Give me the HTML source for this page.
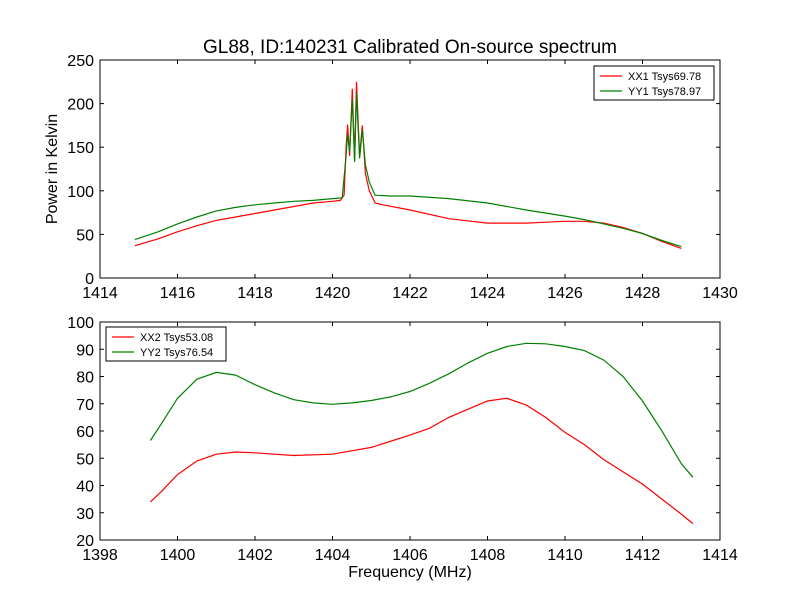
<!DOCTYPE html>
<html><head><meta charset="utf-8"><style>
body{margin:0;background:#fff}
svg text{font-family:"Liberation Sans",sans-serif;fill:#000}
</style></head><body>
<svg id="c" width="800" height="600" viewBox="0 0 800 600" xmlns="http://www.w3.org/2000/svg">
<rect width="800" height="600" fill="#fff"/>
<text x="410" y="53" font-size="19" text-anchor="middle">GL88, ID:140231 Calibrated On-source spectrum</text>
</svg>
<script>
const topXTicks=[1414,1416,1418,1420,1422,1424,1426,1428,1430];
const topYTicks=[0,50,100,150,200,250];
const botXTicks=[1398,1400,1402,1404,1406,1408,1410,1412,1414];
const botYTicks=[20,30,40,50,60,70,80,90,100];
const xx1Freq=[1414.9,1415.5,1416,1416.5,1417,1417.5,1418,1418.5,1419,1419.5,1420,1420.2,1420.3,1420.35,1420.39,1420.44,1420.51,1420.57,1420.62,1420.7,1420.77,1420.85,1420.95,1421.1,1421.3,1422,1423,1424,1425,1425.5,1426,1426.5,1427,1427.5,1428,1428.5,1429];
const xx1Vals=[37,45,53,60,66,70,74,78,82,86,88,89,95,150,176,140,217,135,225,140,175,120,100,86,84,78,68,63,63,64,65,65,63,58,51,42,34];
const yy1Freq=[1414.9,1415.5,1416,1416.5,1417,1417.5,1418,1418.5,1419,1419.5,1420,1420.25,1420.35,1420.39,1420.44,1420.51,1420.57,1420.62,1420.7,1420.77,1420.85,1420.95,1421.1,1421.5,1422,1423,1424,1425,1426,1426.5,1427,1427.5,1428,1428.5,1429];
const yy1Vals=[44,53,62,70,77,81,84,86,88,89,91,92,140,165,145,205,133,212,137,170,130,110,95,94,94,91,86,78,71,67,62,57,51,43,36];
const xx2Freq=[1399.3,1399.6,1400,1400.5,1401,1401.5,1402,1403,1404,1405,1406,1406.5,1407,1407.5,1408,1408.5,1409,1409.5,1410,1410.5,1411,1411.5,1412,1412.5,1413,1413.3];
const xx2Vals=[34,38,44,49,51.5,52.3,52,51,51.5,54,58.5,61,65,68,71,72,69.5,65,59.5,55,49.5,45,40.5,35,29.5,26];
const yy2Freq=[1399.3,1399.6,1400,1400.5,1401,1401.5,1402,1402.5,1403,1403.5,1404,1404.5,1405,1405.5,1406,1406.5,1407,1407.5,1408,1408.5,1409,1409.5,1410,1410.5,1411,1411.5,1412,1412.5,1413,1413.3];
const yy2Vals=[56.5,63,72,79,81.5,80.5,77,74,71.5,70.3,69.8,70.3,71.2,72.5,74.5,77.5,81,85,88.5,91,92.2,92,91,89.5,86,80,71,60,48,43];

const svg=document.getElementById('c');
const NS='http://www.w3.org/2000/svg';
function mk(tag,attrs,parent){const e=document.createElementNS(NS,tag);for(const k in attrs)e.setAttribute(k,attrs[k]);(parent||svg).appendChild(e);return e;}

function panel(name,box,xd,yd,xt,yt,series,legend,ylabel,xlabel){
  const g=mk('g',{});
  
  
  const sx=v=>box.x+(v-xd[0])/(xd[1]-xd[0])*box.w;
  const sy=v=>box.y+box.h-(v-yd[0])/(yd[1]-yd[0])*box.h;
  series.forEach(s=>{
    const pts=s.f.map((f,i)=>sx(f).toFixed(1)+','+sy(s.v[i]).toFixed(1)).join(' ');
    const p=mk('polyline',{points:pts,fill:'none',stroke:s.c,'stroke-width':1.2},g);
    
    
  });
  const fr=mk('rect',{x:box.x,y:box.y,width:box.w,height:box.h,fill:'none',stroke:'#000'},g);
  
  
  xt.forEach(t=>{
    const x=sx(t);
    mk('line',{x1:x,x2:x,y1:box.y+box.h,y2:box.y+box.h-4,stroke:'#000'},g);
    mk('line',{x1:x,x2:x,y1:box.y,y2:box.y+4,stroke:'#000'},g);
    const tx=mk('text',{x:x,y:box.y+box.h+20,'font-size':16,'text-anchor':'middle'},g);
    tx.textContent=t;
    
    
  });
  yt.forEach(t=>{
    const y=sy(t);
    mk('line',{x1:box.x,x2:box.x+4,y1:y,y2:y,stroke:'#000'},g);
    mk('line',{x1:box.x+box.w,x2:box.x+box.w-4,y1:y,y2:y,stroke:'#000'},g);
    const tx=mk('text',{x:box.x-6,y:y+6,'font-size':16,'text-anchor':'end'},g);
    tx.textContent=t;
    
    
  });
  const lg=mk('g',{},g);
  
  
  mk('rect',{x:legend.x,y:legend.y,width:120,height:34,fill:'#fff',stroke:'#000'},lg);
  series.forEach((s,i)=>{
    const y=legend.y+10+i*15;
    mk('line',{x1:legend.x+6,x2:legend.x+28,y1:y,y2:y,stroke:s.c,'stroke-width':1.2},lg);
    const tx=mk('text',{x:legend.x+34,y:y+4,'font-size':11},lg);
    tx.textContent=s.label;
    
    
  });
  if(ylabel){
    const tx=mk('text',{x:57,y:box.y+box.h/2,'font-size':16,'text-anchor':'middle',transform:'rotate(-90 57 '+(box.y+box.h/2)+')'},g);
    tx.textContent=ylabel;
    
    
  }
  if(xlabel){
    const tx=mk('text',{x:box.x+box.w/2,y:577,'font-size':16,'text-anchor':'middle'},g);
    tx.textContent=xlabel;
    
    
  }
}
panel('top',{x:100,y:60,w:620,h:218},[1414,1430],[0,250],topXTicks,topYTicks,
  [{n:'xx1',f:xx1Freq,v:xx1Vals,c:'#ff0000',label:'XX1 Tsys69.78'},{n:'yy1',f:yy1Freq,v:yy1Vals,c:'#008000',label:'YY1 Tsys78.97'}],
  {x:594,y:66},'Power in Kelvin',null);
panel('bottom',{x:100,y:322,w:620,h:218},[1398,1414],[20,100],botXTicks,botYTicks,
  [{n:'xx2',f:xx2Freq,v:xx2Vals,c:'#ff0000',label:'XX2 Tsys53.08'},{n:'yy2',f:yy2Freq,v:yy2Vals,c:'#008000',label:'YY2 Tsys76.54'}],
  {x:106,y:327},null,'Frequency (MHz)');
</script>
</body></html>
